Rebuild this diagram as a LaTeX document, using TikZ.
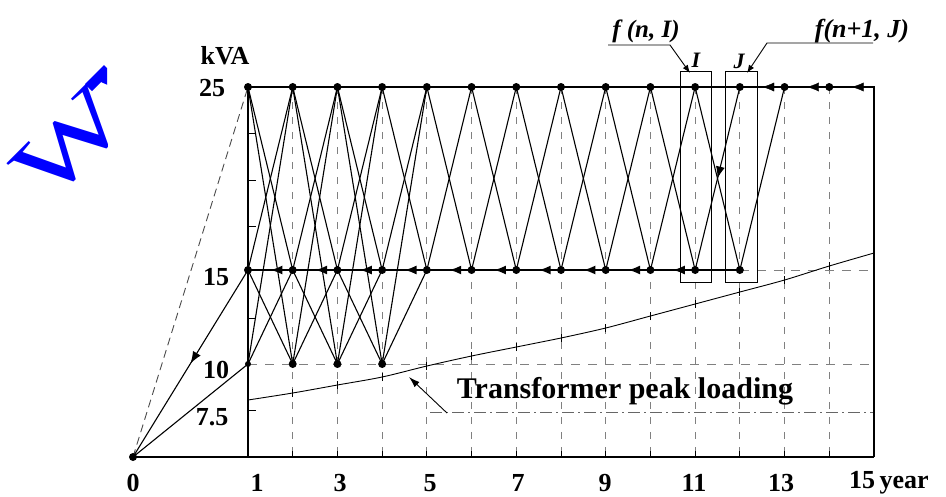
\documentclass[tikz,border=0pt]{standalone}
\usepackage{fontspec}
\setmainfont{Liberation Serif}
\usetikzlibrary{arrows.meta,decorations.markings}
\begin{document}
\begin{tikzpicture}[x=1pt,y=-1pt,
  lat/.style={line width=1.1pt, black},
  frame/.style={line width=2.6pt, black},
  mrow/.style={line width=1.8pt, black},
  gridv/.style={black!50, line width=0.9pt, dash pattern=on 7pt off 8pt},
  gridh/.style={black!50, line width=0.9pt, dash pattern=on 9pt off 8pt},
  dashdot/.style={black!60, line width=0.9pt, dash pattern=on 12pt off 4pt on 2pt off 4pt},
  dot/.style={circle, fill=black, inner sep=0pt, minimum size=8pt},
  sdot/.style={circle, fill=black, inner sep=0pt, minimum size=6pt},
  lbl/.style={font=\fontsize{26}{26}\selectfont\bfseries, inner sep=0pt},
  flbl/.style={font=\fontsize{25}{25}\selectfont\bfseries\itshape, inner sep=0pt},
  midarrow/.style={postaction={decorate}, decoration={markings, mark=at position 0.5 with {\arrow{Latex[length=12pt,width=9pt]}}}},
]
\useasboundingbox (0,0) rectangle (946,496);
\fill[white] (0,0) rectangle (946,496);

% watermark
\begin{scope}
  \clip (0,0) rectangle (107,496);
  \node[rotate=45, text=blue, inner sep=0pt, font=\fontsize{90}{90}\selectfont] (wm) at (70,143) {\scalebox{1.4}[1]{W}};
  \fill[blue] (85,84) -- (104,65) -- (110,71) -- (110,86) -- (101,82) -- (92,91) -- cycle;
\end{scope}

% coordinates
\coordinate (O) at (133,457);
\coordinate (C) at (874,87);
\coordinate (BR) at (874,457);
\foreach \n in {1,...,15} \coordinate (X\n) at ({248+(\n-1)*44.714},457);
\foreach \n in {1,...,14} \coordinate (T\n) at ({248+(\n-1)*44.714},87);
\foreach \n in {1,...,12} \coordinate (M\n) at ({248+(\n-1)*44.714},270);
\foreach \n in {1,...,4} \coordinate (L\n) at ({248+(\n-1)*44.714},364);
\coordinate (R15) at (874,270);
\coordinate (R10) at (874,364);
\coordinate (S75) at (430,412);
\coordinate (R75) at (874,412);
\coordinate (lead) at (447,413);
\coordinate (tip) at (409,377);

% vertical grid
\foreach \n in {2,...,14} \draw[gridv] (T\n) -- (X\n);
% horizontal grid
\draw[gridh] (L1) -- (R10);
\draw[dashdot] (S75) -- (R75);
\draw[gridh] (M12) -- (R15);

% axis ticks
\foreach \y in {133,180,226,318,410} \draw[line width=0.8pt] (249,\y) -- (256,\y);
\foreach \n in {2,...,14} \draw[line width=0.8pt] (X\n) -- ++(0,-6);

% transformer peak loading curve
\foreach \n/\y in {1/400,2/393,3/385,4/377,5/366,6/356,7/347,8/338,9/328,10/316,11/304,12/292,13/280,14/266,15/253}
  \coordinate (P\n) at ({248+(\n-1)*44.714},\y);
\draw[line width=0.9pt] plot[smooth] coordinates {(P1) (P2) (P3) (P4) (P5) (P6) (P7) (P8) (P9) (P10) (P11) (P12) (P13) (P14) (P15)};
\foreach \n in {2,...,14} \draw[line width=0.8pt] ([yshift=-4pt]P\n) -- ([yshift=4pt]P\n);

% lines from origin
\draw[black!70, line width=0.9pt, dash pattern=on 8pt off 5pt] (O) -- (T1);
\draw[lat, midarrow] (M1) -- (O);
\draw[lat] (O) -- (L1);

% lattice 25 <-> 15
\foreach \n [evaluate=\n as \m using {int(\n+1)}] in {1,...,10} {
  \draw[lat] (T\n) -- (M\m);
  \draw[lat] (M\n) -- (T\m);
}
\draw[lat] (T11) -- (M12);
\draw[lat, midarrow] (T12) -- (M11);
\draw[lat] (M12) -- (T13);
% lattice 25/15 <-> 10
\foreach \n [evaluate=\n as \m using {int(\n+1)}] in {1,...,3} {
  \draw[lat] (T\n) -- (L\m);
  \draw[lat] (L\n) -- (T\m);
  \draw[lat] (M\n) -- (L\m);
  \draw[lat] (L\n) -- (M\m);
}
\draw[lat] (L4) -- (T5);
\draw[lat] (L4) -- (M5);

% 15 kVA row with arrows
\foreach \n [evaluate=\n as \m using {int(\n+1)}] in {1,...,10}
  \draw[mrow, midarrow] (M\m) -- (M\n);
\draw[mrow] (M11) -- (M12);

% frame
\draw[frame] (T1) -- (C) -- (BR);
\draw[frame] (O) -- (BR);
\draw[frame] (T1) -- (X1);
% top row arrows
\path[midarrow] (T13) -- (T12);
\path[midarrow] (T14) -- (T13);
\path[midarrow] (C) -- (T14);

% dots
\node[dot] at (O) {};
\foreach \n in {1,...,14} \node[dot] at (T\n) {};
\foreach \n in {1,...,12} \node[dot] at (M\n) {};
\node[sdot] at (L1) {};
\foreach \n in {2,...,4} \node[dot] at (L\n) {};

% I and J boxes
\draw[line width=1pt] (680,71) rectangle (711,282);
\draw[line width=1pt] (725,71) rectangle (757,282);
\node[flbl, font=\fontsize{22}{22}\selectfont\bfseries\itshape] (Ilbl) at (696,60) {I};
\node[flbl, font=\fontsize{22}{22}\selectfont\bfseries\itshape] (Jlbl) at (739,61) {J};

% f labels
\node[flbl] (fI) at (646,31) {f (n, I)};
\node[flbl, font=\fontsize{26}{26}\selectfont\bfseries\itshape] (fJ) at (862,31) {f(n+1, J)};
\coordinate (fIa) at (608,45);
\coordinate (fIb) at (670,45);
\coordinate (fIc) at (690,73);
\coordinate (fJa) at (873,43);
\coordinate (fJb) at (767,43);
\coordinate (fJc) at (747,73);
\draw[line width=0.9pt, -{Latex[length=8pt,width=6pt]}] (fIa) -- (fIb) -- (fIc);
\draw[line width=0.9pt, -{Latex[length=8pt,width=6pt]}] (fJa) -- (fJb) -- (fJc);

% transformer label and leader
\draw[line width=0.9pt, -{Latex[length=11pt,width=7pt]}] (lead) -- (tip);
\node[inner sep=0pt, font=\fontsize{30}{30}\selectfont\bfseries] (tpl) at (625,391) {Transformer peak loading};

% axis labels
\node[lbl] (kva) at (225,56) {kVA};
\node[lbl] (y25) at (212,88) {25};
\node[lbl] (y15) at (216,277) {15};
\node[lbl] (y10) at (216,370) {10};
\node[lbl] (y75) at (212,417) {7.5};
\node[lbl] (x0) at (133,483) {0};
\node[lbl] (x1) at (257,483) {1};
\node[lbl] (x3) at (340,483) {3};
\node[lbl] (x5) at (430,483) {5};
\node[lbl] (x7) at (518,483) {7};
\node[lbl] (x9) at (605,483) {9};
\node[lbl] (x11) at (694,483) {11};
\node[lbl] (x13) at (781,483) {13};
\node[lbl, anchor=west] (x15) at (849,483) {15\,year};
\end{tikzpicture}
\end{document}
